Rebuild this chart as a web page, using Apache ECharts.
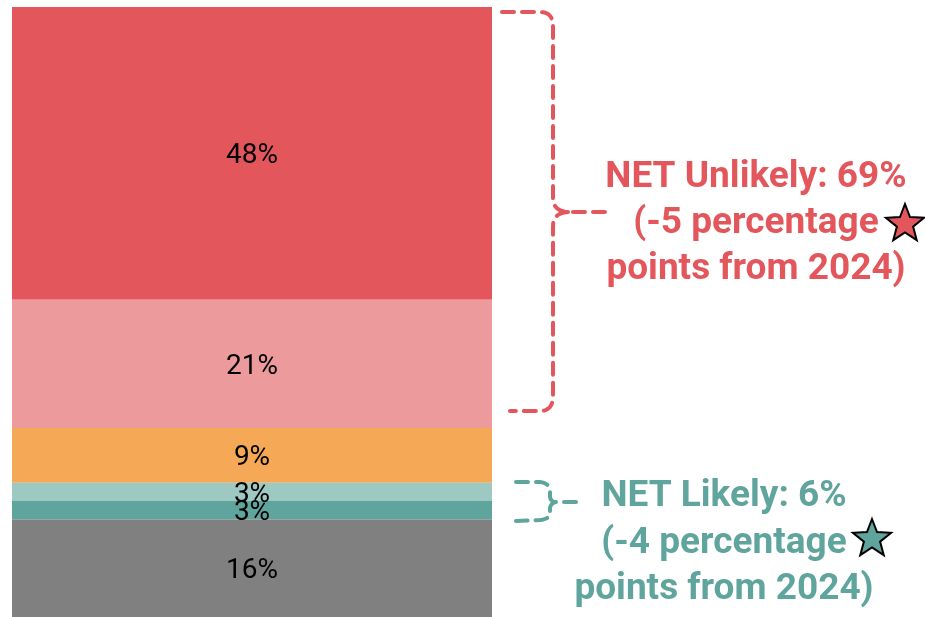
<!DOCTYPE html>
<html>
<head>
<meta charset="utf-8">
<script src="https://cdn.jsdelivr.net/npm/echarts@6/dist/echarts.min.js"></script>
<style>
  html, body { margin: 0; padding: 0; background: #fff; }
  #main { width: 925px; height: 617px; }
</style>
</head>
<body>
<div id="main"></div>
<script>
// one stacked column, top to bottom
var categories = ['2025'];
var seriesNames = ['Very unlikely', 'Somewhat unlikely', 'Neither', 'Somewhat likely', 'Very likely', 'Not sure'];
var seriesValues = [48, 21, 9, 3, 3, 16];
var seriesColors = ['#e3575c', '#ec9a9b', '#f5a855', '#9ec9c3', '#5fa59d', '#808080'];

var unlikelyNote = ['NET Unlikely: 69%', '(-5 percentage', 'points from 2024)'];
var likelyNote = ['NET Likely: 6%', '(-4 percentage', 'points from 2024)'];

function starPoints(cx, cy, r1, r2) {
	var pts = [];
	for (var i = 0; i < 10; i++) {
		var r = i % 2 === 0 ? r1 : r2;
		var a = -Math.PI / 2 + i * Math.PI / 5;
		pts.push([cx + r * Math.cos(a), cy + r * Math.sin(a)]);
	}
	return pts;
}

// bracket outline: start point, then [x,y] line-to or [cx,cy,x,y] quad-to
function bracePoints(start, steps) {
	var pts = [start], cur = start;
	steps.forEach(function (s) {
		if (s.length === 2) {
			pts.push(s); cur = s;
		} else {
			for (var k = 1; k <= 8; k++) {
				var t = k / 8, u = 1 - t;
				pts.push([u * u * cur[0] + 2 * u * t * s[0] + t * t * s[2],
				          u * u * cur[1] + 2 * u * t * s[1] + t * t * s[3]]);
			}
			cur = [s[2], s[3]];
		}
	});
	return pts;
}

function noteText(lines, cx, y0, gap, color) {
	return lines.map(function (t, i) {
		return {
			type: 'text', x: cx, y: y0 + i * gap,
			style: {
				text: t, fill: color, align: 'center', verticalAlign: 'middle',
				font: 'bold 37px Roboto'
			}
		};
	});
}

var myChart = echarts.init(document.getElementById('main'));
var series = seriesValues.map(function (v, i) {
	return {
		name: seriesNames[i],
		type: 'bar',
		stack: 'all',
		barWidth: '100%',
		data: [v],
		itemStyle: { color: seriesColors[i] },
		label: {
			show: true, position: 'inside', formatter: '{c}%', offset: [0, 3],
			color: '#000', fontSize: 28, fontFamily: 'Roboto'
		}
	};
});

var dashStyle = function (color) {
	return { stroke: color, lineWidth: 4, lineDash: [12, 8], lineCap: 'round', fill: null };
};
function dashed(pts, color) {
	return { type: 'polyline', shape: { points: pts }, style: dashStyle(color) };
}

var red = '#e3575c', teal = '#5fa59d';
var graphics = [
	dashed(bracePoints([502, 12], [[540, 12], [553, 12, 553, 26], [553, 198], [553, 211, 568, 212], [605, 212]]), red),
	dashed(bracePoints([568, 212], [[553, 213, 553, 226], [553, 396], [553, 411, 540, 411], [510, 411]]), red),
	dashed(bracePoints([516, 482], [[540, 482], [550, 483, 550, 492], [550, 497], [551, 502, 556, 502]]), teal),
	dashed(bracePoints([556, 502], [[551, 503, 550, 508], [550, 513], [550, 519, 540, 520], [516, 521]]), teal),
	dashed([[564, 502], [578, 502]], teal),
	{
		type: 'polygon',
		shape: { points: starPoints(905, 224, 20, 8.5) },
		style: { fill: red, stroke: '#000', lineWidth: 2 }
	},
	{
		type: 'polygon',
		shape: { points: starPoints(872, 539, 20, 8.5) },
		style: { fill: teal, stroke: '#000', lineWidth: 2 }
	}
].concat(noteText(unlikelyNote, 756, 178, 46, red))
 .concat(noteText(likelyNote, 724, 497, 46.5, teal));

option = {
	animation: false,
	grid: { left: 12, right: 433, top: 7, bottom: 0 },
	xAxis: { type: 'category', data: categories, show: false },
	yAxis: { type: 'value', min: 0, max: 100, inverse: true, show: false },
	series: series,
	graphic: graphics
};
myChart.setOption(option);
</script>
</body>
</html>
